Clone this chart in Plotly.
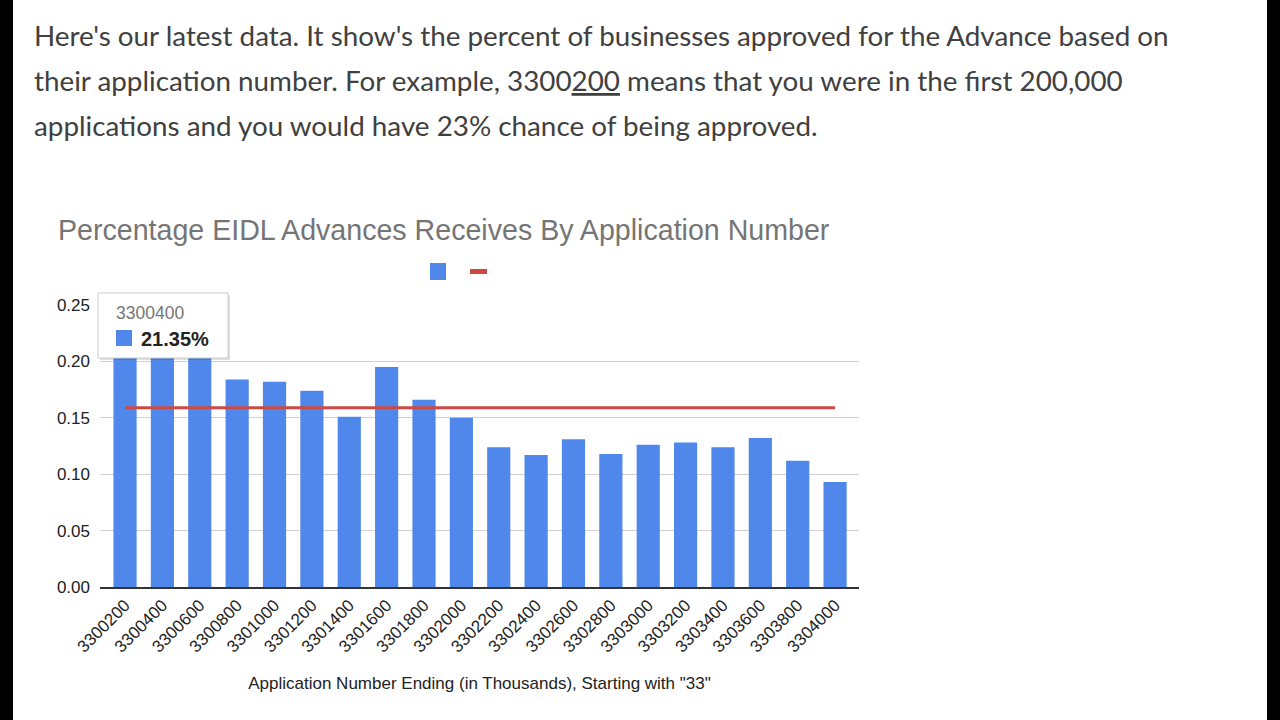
import plotly.graph_objects as go

categories = ["3300200", "3300400", "3300600", "3300800", "3301000", "3301200", "3301400",
              "3301600", "3301800", "3302000", "3302200", "3302400", "3302600", "3302800",
              "3303000", "3303200", "3303400", "3303600", "3303800", "3304000"]
approval_rate = [0.23, 0.2135, 0.22, 0.184, 0.182, 0.174, 0.151, 0.195, 0.166, 0.150,
                 0.124, 0.117, 0.131, 0.118, 0.126, 0.128, 0.124, 0.132, 0.112, 0.093]
reference_level = [0.159] * len(categories)
y_ticks = [0.00, 0.05, 0.10, 0.15, 0.20, 0.25]
hover_index = 1

W, H = 1280, 720
L, R, T, B = 100, 859, 305, 587  # plot area in pixels


def px(x):
    return (x - L) / (R - L)


def py(y):
    return (B - y) / (B - T)


BLUE = "#4f87eb"
RED = "#cc4a43"

fig = go.Figure()
fig.add_trace(go.Bar(x=categories, y=approval_rate, marker_color=BLUE,
                     marker_line_width=0, showlegend=False))
fig.add_trace(go.Scatter(x=categories, y=reference_level, mode="lines",
                         line=dict(color=RED, width=3), showlegend=False))

shapes = []
annotations = []

# side black bars
shapes.append(dict(type="rect", xref="paper", yref="paper", x0=px(0), x1=px(13),
                   y0=py(720), y1=py(0), fillcolor="black", line_width=0, layer="above"))
shapes.append(dict(type="rect", xref="paper", yref="paper", x0=px(1267), x1=px(1280),
                   y0=py(720), y1=py(0), fillcolor="black", line_width=0, layer="above"))

# paragraph text
para = ["Here's our latest data. It show's the percent of businesses approved for the Advance based on",
        "their application number. For example, 3300<span style=\"text-decoration:underline\">200</span>"
        " means that you were in the first 200,000",
        "applications and you would have 23% chance of being approved."]
for i, line in enumerate(para):
    annotations.append(dict(text=line, xref="paper", yref="paper", x=px(32), y=py(35 + 45.5 * i),
                            xanchor="left", yanchor="middle", showarrow=False,
                            font=dict(family="Lato", size=27.8, color="#404040")))

# legend (symbols only)
shapes.append(dict(type="rect", xref="paper", yref="paper", x0=px(430), x1=px(446),
                   y0=py(280), y1=py(263), fillcolor=BLUE, line_width=0))
shapes.append(dict(type="rect", xref="paper", yref="paper", x0=px(470), x1=px(487),
                   y0=py(274), y1=py(269), fillcolor=RED, line_width=0))

# tooltip
shapes.append(dict(type="rect", xref="paper", yref="paper", x0=px(100), x1=px(230),
                   y0=py(360), y1=py(295), fillcolor="rgba(0,0,0,0.12)", line_width=0, layer="above"))
shapes.append(dict(type="rect", xref="paper", yref="paper", x0=px(98), x1=px(228),
                   y0=py(358), y1=py(293), fillcolor="white", line=dict(color="#cccccc", width=1),
                   layer="above"))
shapes.append(dict(type="rect", xref="paper", yref="paper", x0=px(116), x1=px(132),
                   y0=py(346), y1=py(330), fillcolor=BLUE, line_width=0, layer="above"))
annotations.append(dict(text=categories[hover_index], xref="paper", yref="paper", x=px(114), y=py(313),
                        xanchor="left", yanchor="middle", showarrow=False,
                        font=dict(family="Liberation Sans", size=17.5, color="#757575")))
annotations.append(dict(text="<b>%.2f%%</b>" % (approval_rate[hover_index] * 100), xref="paper",
                        yref="paper", x=px(139), y=py(339), xanchor="left", yanchor="middle",
                        showarrow=False, font=dict(family="Liberation Sans", size=20, color="#222222")))

fig.update_layout(
    width=W, height=H,
    margin=dict(l=L, r=W - R, t=T, b=H - B, pad=0),
    paper_bgcolor="white", plot_bgcolor="white",
    bargap=0.38,
    title=dict(text="Percentage EIDL Advances Receives By Application Number",
               x=58 / W, xanchor="left", xref="container", y=1 - 230 / H, yanchor="middle",
               yref="container",
               font=dict(family="Liberation Sans", size=28.6, color="#757575")),
    font=dict(family="Liberation Sans", color="#222222"),
    shapes=shapes, annotations=annotations,
    xaxis=dict(type="category", range=[-0.67, 19.64], tickangle=-45,
               tickfont=dict(size=17, color="#222222"),
               showgrid=False, showline=True, linecolor="#333333", linewidth=1.5,
               ticks="", title=dict(text='Application Number Ending (in Thousands), Starting with "33"',
                                    font=dict(size=17, color="#222222"), standoff=22)),
    yaxis=dict(range=[0, 0.25], tickvals=y_ticks, ticktext=["%.2f" % v for v in y_ticks],
               tickfont=dict(size=17, color="#222222"), gridcolor="#d0d0d0", gridwidth=1,
               zeroline=False, showline=False, ticks="", ticklabelstandoff=9),
)

fig.write_html("out.html")
